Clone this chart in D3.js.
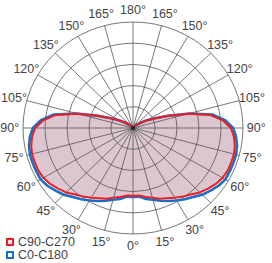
<!DOCTYPE html>
<html>
<head>
<meta charset="utf-8">
<script src="https://cdn.jsdelivr.net/npm/d3@7"></script>
<style>
  body { margin: 0; background: #fff; }
  svg { display: block; }
</style>
</head>
<body>
<svg id="chart" width="272" height="263"></svg>
<script>
// polar intensity diagram, values in % of outer ring

var angles = [0,5,10,15,20,25,30,35,40,45,50,55,60,65,70,75,80,85,90,95,100,105,110,115,120,125,130,135,140,145,150,155,160,165,170,175,180];
var c0c180  = [65,65,68,70,73,76,79,82,85,89,92,95,97,97,97,97,96,94,91,84,73,53,34,21,14,9,6,4,2,1,0,0,0,0,0,0,0];
var c90c270 = [64,64,66,68,71,73,76,79,82,86,89,92,94,95,95,95,94,92,89,82,71,52,33,21,14,9,6,4,2,1,0,0,0,0,0,0,0];
var ringValues = [20,40,60,80,100];
var spokeAngles = [0,15,30,45,60,75,90,105,120,135,150,165,180];
var seriesNames = ["C90-C270","C0-C180"];

var svg = d3.select("#chart");
var cx = 133, cy = 128;
var labelFont = "12.5px 'Liberation Sans Narrow', 'Liberation Sans', Arial, sans-serif";

var xr = d3.scaleLinear().domain([0,100]).range([0,110]);
var yr = d3.scaleLinear().domain([0,100]).range([0,106]);
var rad = function(a) { return a * Math.PI / 180; };

// angle counted from the bottom, positive to the right
function px(a, v) { return cx + xr(v) * Math.sin(rad(a)); }
function py(a, v) { return cy + yr(v) * Math.cos(rad(a)); }

function buildPoints(vals) {
  var pts = [];
  angles.forEach(function(a, i) { pts.push([a, vals[i]]); });
  for (var i = angles.length - 2; i > 0; i--) pts.push([-angles[i], vals[i]]);
  return pts;
}

var line = d3.line()
    .x(function(d) { return px(d[0], d[1]); })
    .y(function(d) { return py(d[0], d[1]); })
    .curve(d3.curveLinearClosed);

var redPts = buildPoints(c90c270);
var bluePts = buildPoints(c0c180);

// fill under red series
svg.append("path")
    .attr("d", line(redPts))
    .attr("fill", "#dcc6d0")
    .attr("stroke", "none");

// grid
var grid = svg.append("g").attr("stroke", "#555").attr("stroke-width", 0.8).attr("fill", "none");
grid.selectAll("ellipse").data(ringValues).enter().append("ellipse")
    .attr("cx", cx).attr("cy", cy)
    .attr("rx", function(d) { return xr(d); })
    .attr("ry", function(d) { return yr(d); });

var spokes = [];
spokeAngles.forEach(function(a) { spokes.push(a); if (a > 0 && a < 180) spokes.push(-a); });
grid.selectAll("line").data(spokes).enter().append("line")
    .attr("x1", cx).attr("y1", cy)
    .attr("x2", function(a) { return px(a, 100); })
    .attr("y2", function(a) { return py(a, 100); });

// series
svg.append("path")
    .attr("d", line(bluePts))
    .attr("fill", "none")
    .attr("stroke", "#1a6fc4")
    .attr("stroke-width", 2.6)
    .attr("stroke-linejoin", "round");

svg.append("path")
    .attr("d", line(redPts))
    .attr("fill", "none")
    .attr("stroke", "#ee1c24")
    .attr("stroke-width", 2)
    .attr("stroke-linejoin", "round");

svg.append("circle").attr("cx", cx).attr("cy", cy).attr("r", 2).attr("fill", "#222");

// angle labels
svg.append("g").selectAll("text").data(spokes).enter().append("text")
    .attr("x", function(a) { return px(a, 112); })
    .attr("y", function(a) { return py(a, 111); })
    .attr("text-anchor", "middle")
    .attr("dominant-baseline", "central")
    .style("font", labelFont)
    .attr("fill", "#444")
    .text(function(a) { return Math.abs(a) + "°"; });

// legend
var legendColors = ["#ee1c24", "#1a6fc4"];
var legendFill = ["#f4e4ea", "#ffffff"];
var lg = svg.append("g").selectAll("g").data(seriesNames).enter().append("g")
    .attr("transform", function(d, i) { return "translate(7," + (239 + i * 13) + ")"; });
lg.append("rect")
    .attr("width", 6).attr("height", 6)
    .attr("fill", function(d, i) { return legendFill[i]; })
    .attr("stroke", function(d, i) { return legendColors[i]; })
    .attr("stroke-width", 2);
lg.append("text")
    .attr("x", 11).attr("y", 3)
    .attr("dominant-baseline", "central")
    .style("font", labelFont)
    .attr("fill", "#444")
    .text(function(d) { return d; });
</script>
</body>
</html>
